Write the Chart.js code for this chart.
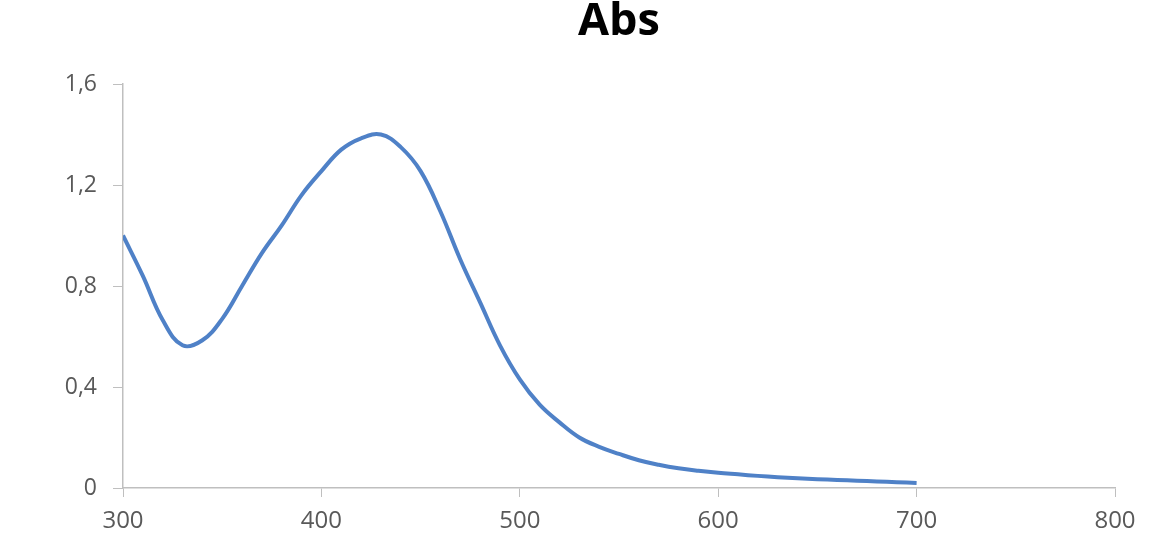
<!DOCTYPE html>
<html>
<head>
<meta charset="utf-8">
<script src="https://cdn.jsdelivr.net/npm/chart.js@4"></script>
<style>
  html, body { margin: 0; padding: 0; background: #ffffff; }
  #wrap { width: 1157px; height: 545px; }
</style>
</head>
<body>
<div id="wrap"><canvas id="absChart"></canvas></div>
<script>
// Wavelength (nm) and absorbance
const wavelengths = [300, 310, 320, 330, 340, 350, 360, 370, 380, 390,
                     400, 410, 420, 430, 440, 450, 460, 470, 480, 490,
                     500, 510, 520, 530, 540, 550, 560, 570, 580, 590,
                     600, 610, 620, 630, 640, 650, 660, 670, 680, 690, 700];
const absorbance = [1.00, 0.84, 0.665, 0.565, 0.585, 0.67, 0.80, 0.93, 1.04, 1.16,
                    1.255, 1.34, 1.385, 1.40, 1.35, 1.255, 1.095, 0.905, 0.735, 0.565,
                    0.43, 0.33, 0.26, 0.20, 0.163, 0.135, 0.11, 0.092, 0.078, 0.068,
                    0.060, 0.054, 0.048, 0.043, 0.039, 0.035, 0.032, 0.029, 0.026, 0.023, 0.020];
const xTicks = [300, 400, 500, 600, 700, 800];
const yTicks = [0, 0.4, 0.8, 1.2, 1.6];

const axisColor = '#bfbfbf';
const labelColor = '#595959';
const fontFamily = "'Open Sans', 'Noto Sans', sans-serif";

const points = wavelengths.map((w, i) => ({ x: w, y: absorbance[i] }));

const ctx = document.getElementById('absChart').getContext('2d');
new Chart(ctx, {
    type: 'line',
    data: {
        datasets: [{
            label: 'Abs',
            data: points,
            borderColor: '#4f81c7',
            borderWidth: 4,
            pointRadius: 0,
            tension: 0.4,
            fill: false
        }]
    },
    options: {
        responsive: true,
        maintainAspectRatio: false,
        animation: false,
        layout: {
            padding: { left: 0, right: 42, top: 0, bottom: 0 }
        },
        scales: {
            x: {
                type: 'linear',
                min: 300,
                max: 800,
                afterBuildTicks: function(axis) {
                    axis.ticks = xTicks.map(v => ({ value: v }));
                },
                afterFit: function(axis) {
                    axis.height = 57;
                },
                ticks: {
                    color: labelColor,
                    font: { family: fontFamily, size: 24 },
                    padding: 10,
                    maxRotation: 0
                },
                grid: {
                    display: true,
                    drawOnChartArea: false,
                    drawTicks: true,
                    tickLength: 9,
                    color: axisColor
                },
                border: { display: true, color: axisColor, width: 1.5 }
            },
            y: {
                min: 0,
                max: 1.6,
                afterBuildTicks: function(axis) {
                    axis.ticks = yTicks.map(v => ({ value: v }));
                },
                afterFit: function(axis) {
                    axis.width = 123;
                },
                ticks: {
                    color: labelColor,
                    font: { family: fontFamily, size: 23 },
                    padding: 16,
                    callback: function(value) {
                        return value === 0 ? '0' : value.toFixed(1).replace('.', ',');
                    }
                },
                grid: {
                    display: true,
                    drawOnChartArea: false,
                    drawTicks: true,
                    tickLength: 10,
                    color: axisColor
                },
                border: { display: true, color: axisColor, width: 1.5 }
            }
        },
        plugins: {
            legend: { display: false },
            tooltip: { enabled: false },
            title: {
                display: true,
                fullSize: false,
                text: 'Abs',
                color: '#000000',
                font: { family: fontFamily, size: 45, weight: 'bold', lineHeight: 1 },
                padding: { top: 0, bottom: 39 }
            }
        }
    }
});
</script>
</body>
</html>
